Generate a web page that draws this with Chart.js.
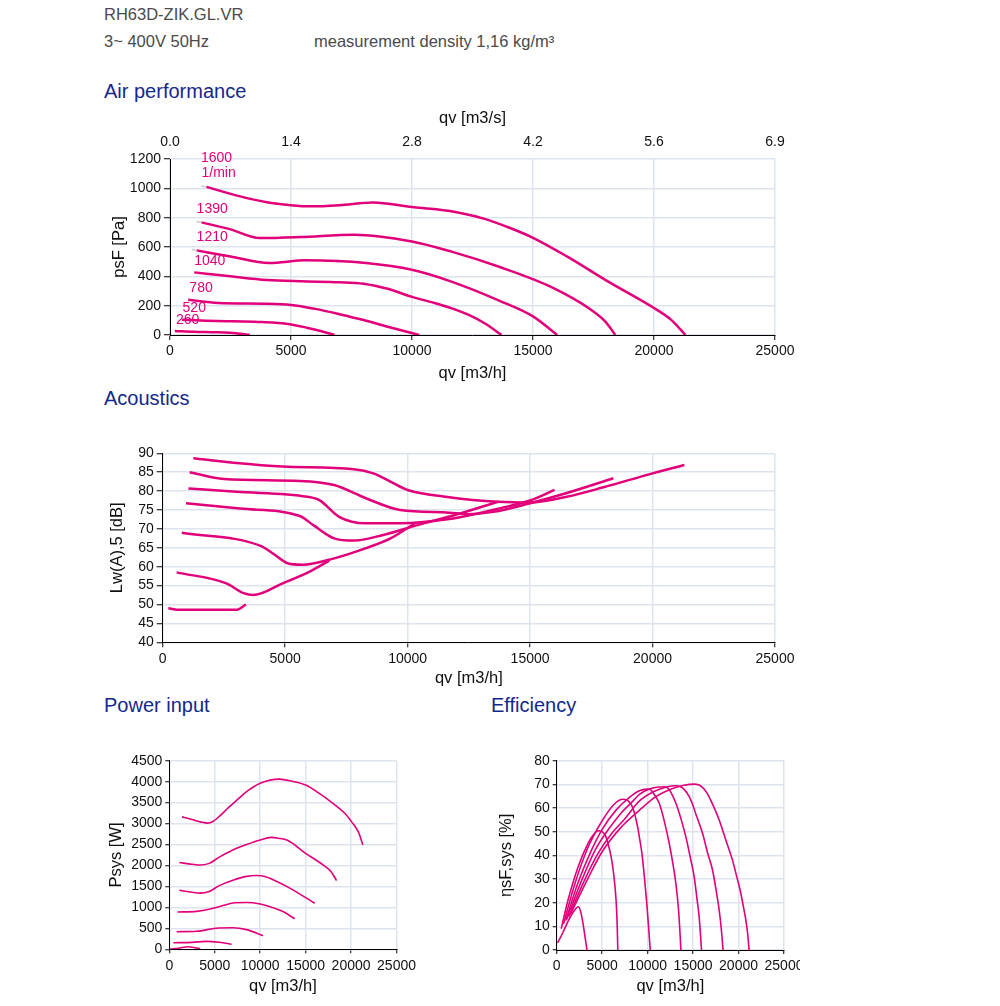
<!DOCTYPE html>
<html>
<head>
<meta charset="utf-8">
<script src="https://cdn.jsdelivr.net/npm/chart.js@4.4.1/dist/chart.umd.min.js"></script>
<style>
  body { margin: 0; background: #fff; font-family: "Liberation Sans", Arial, sans-serif; }
  .info { position: absolute; color: #4a4a4a; font-size: 16.5px; white-space: nowrap; }
  .head { position: absolute; color: #14288c; font-size: 20px; white-space: nowrap; }
  .box { position: absolute; overflow: hidden; }
  canvas { display: block; }
</style>
</head>
<body>
<div class="info" style="left:104px;top:5px">RH63D-ZIK.GL.VR</div>
<div class="info" style="left:104px;top:32px">3~ 400V 50Hz</div>
<div class="info" style="left:314px;top:32px">measurement density 1,16 kg/m³</div>
<div class="head" style="left:104px;top:80px">Air performance</div>
<div class="head" style="left:104px;top:387px">Acoustics</div>
<div class="head" style="left:104px;top:694px">Power input</div>
<div class="head" style="left:491px;top:694px">Efficiency</div>

<div class="box" id="bAir"><canvas id="cAir"></canvas></div>
<div class="box" id="bAco"><canvas id="cAco"></canvas></div>
<div class="box" id="bPow"><canvas id="cPow"></canvas></div>
<div class="box" id="bEff"><canvas id="cEff"></canvas></div>

<script>
// speeds in 1/min, top curve first
const speeds = ['1600', '1390', '1210', '1040', '780', '520', '260'];

// tick labels
const qvTicks = ['0', '5000', '10000', '15000', '20000', '25000'];
const qvSecTicks = ['0.0', '1.4', '2.8', '4.2', '5.6', '6.9'];
const psfTicks = ['0', '200', '400', '600', '800', '1000', '1200'];
const lwTicks = ['40', '45', '50', '55', '60', '65', '70', '75', '80', '85', '90'];
const powTicks = ['0', '500', '1000', '1500', '2000', '2500', '3000', '3500', '4000', '4500'];
const effTicks = ['0', '10', '20', '30', '40', '50', '60', '70', '80'];

// air performance: [qv m3/h, psF Pa]
const air1600 = [[1500,1010],[2900,945],[4000,905],[5000,885],[5800,877],[7000,885],[8400,904],[10000,873],[11000,857],[12000,832],[13000,792],[14000,733],[15000,663],[16400,536],[18200,355],[20000,184],[20700,105],[21300,0]];
const air1390 = [[1300,768],[2500,720],[3700,661],[5400,668],[7600,684],[10000,638],[11600,570],[13600,465],[15700,331],[17400,172],[18000,90],[18400,0]];
const air1210 = [[1100,577],[2500,535],[4100,491],[5600,509],[8100,491],[10000,445],[11600,366],[13600,235],[15000,127],[16000,0]];
const air1040 = [[1000,427],[2500,400],[4000,375],[5400,366],[7000,360],[8000,350],[9000,315],[10000,260],[11000,215],[11600,184],[12300,140],[13000,80],[13700,0]];
const air780 = [[750,240],[2000,218],[4000,213],[5000,205],[6000,178],[7000,142],[8000,102],[9000,56],[10300,0]];
const air520 = [[500,104],[1500,98],[2600,93],[3800,88],[4800,77],[5650,50],[6300,24],[6800,0]];
const air260 = [[200,28],[1000,22],[2000,18],[2800,10],[3300,0]];

// faint grey lead-ins left of the first three curves
const lead1600 = [[1300,1016],[1500,1010]];
const lead1390 = [[1100,774],[1300,768]];
const lead1210 = [[900,583],[1100,577]];

// speed labels on the air chart
const airLabelText = ['1600', '1/min', '1390', '1210', '1040', '780', '520', '260'];
const airLabelQ = [1280, 1300, 1100, 1100, 1000, 800, 520, 250];
const airLabelP = [1209, 1103, 857, 670, 505, 320, 184, 102];

// acoustics: [qv m3/h, Lw(A),5 dB]
const lw1600 = [[1250,88.7],[2900,87.5],[4900,86.5],[7800,85.8],[8600,84.7],[9300,82.5],[10000,80.3],[11700,78.4],[13700,77.2],[15000,77],[16500,78.5],[18000,81],[20000,84.7],[21300,86.9]];
const lw1390 = [[1100,85],[2500,83.2],[5600,82.7],[7000,81.6],[8300,78.1],[9700,75],[11700,74.3],[12400,73.9],[13500,74.5],[15000,76.8],[16500,79.5],[18400,83.4]];
const lw1210 = [[1050,80.7],[3000,79.8],[5900,78.5],[6400,77.6],[7200,73.2],[8300,71.5],[9700,71.5],[11700,72.6],[13800,75.5],[15000,77.5],[16000,80.3]];
const lw1040 = [[950,76.8],[3150,75.4],[5600,73.4],[6150,71],[7000,67.5],[7800,66.9],[9000,68.4],[10400,71],[12000,73.8],[13700,77.2]];
const lw780 = [[780,69],[4000,65.5],[4500,63.5],[5100,60.9],[5700,60.5],[7000,62.2],[8300,64.9],[9300,67.5],[10300,71.5]];
const lw520 = [[570,58.5],[2600,55.6],[3300,53],[3700,52.5],[4900,55.6],[6000,58.7],[6800,61.6]];
const lw260 = [[230,49],[700,48.6],[3000,48.6],[3400,50]];

// power input: [qv m3/h, Psys W]
const pw1600 = [[1400,3160],[2500,3095],[3500,3035],[4200,3010],[4800,3050],[5500,3170],[6500,3380],[7500,3570],[8500,3760],[10000,3960],[12100,4060],[13500,4010],[15000,3920],[16500,3720],[18000,3480],[19500,3200],[20200,3000],[20800,2800],[21300,2490]];
const pw1390 = [[1100,2070],[2500,2030],[3400,2010],[4400,2050],[5500,2200],[7000,2370],[8500,2500],[10000,2610],[11200,2670],[12000,2650],[13000,2600],[15000,2290],[17000,2000],[17800,1850],[18400,1640]];
const pw1210 = [[1100,1410],[2500,1360],[3400,1340],[4400,1380],[5500,1520],[7000,1650],[8500,1740],[9600,1760],[10600,1730],[12000,1600],[13000,1490],[14500,1300],[16000,1100]];
const pw1040 = [[900,890],[3000,905],[4500,960],[6000,1050],[7200,1110],[8500,1115],[10000,1080],[11000,1020],[12500,900],[13800,730]];
const pw780 = [[800,420],[3000,430],[5400,510],[7000,515],[8500,470],[10300,325]];
const pw520 = [[450,158],[2500,165],[4000,190],[5500,170],[6850,120]];
const pw260 = [[100,5],[1000,25],[2100,62],[2800,35],[3400,20]];

// efficiency: [qv m3/h, etasF,sys %]
const ef1600 = [[1500,15],[3400,30],[5000,41.5],[7000,51.5],[9085,59],[10900,64.8],[12750,68.3],[14000,69.6],[15120,70.1],[15600,69.8],[16000,68.8],[16500,66.5],[17000,62.8],[17500,58.5],[17870,54.9],[18600,46.5],[19330,38],[19800,31],[20250,24],[20550,18],[20800,12.7],[21000,7],[21160,0]];
const ef1390 = [[1300,14],[3000,29],[4500,40.5],[6000,49],[7500,55.5],[9100,63],[10700,67],[12000,68.8],[13100,69.4],[13600,69],[14000,68],[14575,64.8],[15000,61],[15300,57.5],[16040,49.3],[16600,41],[17140,33.8],[17500,26],[17870,16.9],[18100,9],[18300,0]];
const ef1210 = [[1100,13],[2700,29],[4200,42],[5600,50.5],[7000,57.5],[8400,63],[9100,65.8],[10200,68],[11000,68.8],[11830,69],[12200,68.5],[12500,67],[13110,62],[13700,55],[14200,47.9],[14700,39],[15120,31],[15450,21],[15670,14],[15930,0]];
const ef1040 = [[1000,12.5],[2300,28],[3800,42],[5000,51],[6500,59],[8000,64.5],[9100,67.3],[9900,68],[10200,67.9],[10500,67],[11280,62],[11800,55],[12380,45],[12800,36],[13110,28],[13400,17],[13550,8],[13660,0]];
const ef780 = [[750,11],[2000,28],[3400,43],[4900,54],[6300,61.5],[7260,63.7],[7700,63.4],[8000,62.5],[8200,61.5],[8500,58.5],[8900,52],[9100,47.5],[9400,40],[9640,31],[9900,20],[10100,10],[10290,0]];
const ef520 = [[500,9],[1240,21],[2340,35],[3430,45],[4000,48.5],[4600,50.4],[5000,50],[5260,49],[5450,47.5],[5600,45.5],[5990,39.4],[6300,31],[6530,21],[6650,11],[6720,0]];
const ef260 = [[100,3],[700,7.5],[1300,12.5],[1900,16.5],[2400,18.3],[2650,16],[2900,11],[3100,6],[3330,0]];

const FONT = '"Liberation Sans", Arial, sans-serif';
const PINK = '#e2007a';
const GRID = '#dde4ee';

function toSets(curves, width) {
  return curves.map((c, i) => ({
    label: speeds[i],
    data: c.map(p => ({ x: p[0], y: p[1] })),
    borderColor: PINK,
    borderWidth: width,
    pointRadius: 0,
    fill: false,
    cubicInterpolationMode: 'monotone'
  }));
}

function leadSets(curves) {
  return curves.map(c => ({
    data: c.map(p => ({ x: p[0], y: p[1] })),
    borderColor: '#cfd3da',
    borderWidth: 2,
    pointRadius: 0,
    fill: false
  }));
}

function axis(o) {
  return {
    type: 'linear',
    position: o.pos,
    min: o.min,
    max: o.max,
    afterFit: s => { if (o.pos === 'left') s.width = o.size; else s.height = o.size; },
    ticks: {
      stepSize: o.step, autoSkip: false, maxRotation: 0, padding: o.pad,
      color: '#111', font: { family: FONT, size: o.fs },
      callback: (v, i) => o.labels[i]
    },
    grid: { display: o.grid !== false, color: GRID, lineWidth: 1.5, tickLength: o.tl, tickColor: '#000', tickWidth: 1 },
    border: { display: o.grid !== false, color: '#000', width: 1 },
    title: { display: true, text: o.title, color: '#111', font: { family: FONT, size: 16.5 }, padding: { top: 4, bottom: 4 } }
  };
}

function makeChart(id, box, clipW, plot, sizes, scales, sets, plugins) {
  const wrap = document.getElementById('b' + id.slice(1));
  wrap.style.left = box[0] + 'px';
  wrap.style.top = box[1] + 'px';
  wrap.style.width = clipW + 'px';
  wrap.style.height = box[3] + 'px';
  const cv = document.getElementById(id);
  cv.width = box[2];
  cv.height = box[3];
  cv.style.width = box[2] + 'px';
  cv.style.height = box[3] + 'px';
  return new Chart(cv, {
    type: 'line',
    data: { datasets: sets },
    plugins: plugins || [],
    options: {
      responsive: false,
      animation: false,
      layout: {
        padding: {
          left: plot[0] - box[0] - sizes.left,
          top: plot[1] - box[1] - (sizes.top || 0),
          right: box[0] + box[2] - plot[2],
          bottom: box[1] + box[3] - plot[3] - sizes.bottom
        }
      },
      plugins: { legend: { display: false }, tooltip: { enabled: false } },
      scales: scales
    }
  });
}

const curveLabels = {
  id: 'curveLabels',
  afterDatasetsDraw(chart) {
    const { ctx, scales: { x, y } } = chart;
    ctx.save();
    ctx.fillStyle = PINK;
    ctx.font = '14px ' + FONT;
    ctx.textBaseline = 'middle';
    airLabelText.forEach((t, i) => {
      ctx.fillText(t, x.getPixelForValue(airLabelQ[i]), y.getPixelForValue(airLabelP[i]));
    });
    ctx.restore();
  }
};

// Air performance
makeChart('cAir', [88, 100, 722, 295], 722, [170, 159, 775, 335],
  { left: 64, bottom: 52, top: 54 },
  {
    x: axis({ pos: 'bottom', min: 0, max: 25000, step: 5000, labels: qvTicks, size: 52, pad: 3, tl: 5, fs: 14, title: 'qv [m3/h]' }),
    x2: axis({ pos: 'top', min: 0, max: 25000, step: 5000, labels: qvSecTicks, size: 54, pad: 8, tl: 0, fs: 14, title: 'qv [m3/s]', grid: false }),
    y: axis({ pos: 'left', min: 0, max: 1200, step: 200, labels: psfTicks, size: 64, pad: 3, tl: 6, fs: 14, title: 'psF [Pa]' })
  },
  leadSets([lead1600, lead1390, lead1210]).concat(
    toSets([air1600, air1390, air1210, air1040, air780, air520, air260], 2.5)),
  [curveLabels]);

// Acoustics
makeChart('cAco', [88, 440, 722, 260], 722, [162.7, 453.3, 775, 642.3],
  { left: 59.6, bottom: 50 },
  {
    x: axis({ pos: 'bottom', min: 0, max: 25000, step: 5000, labels: qvTicks, size: 50, pad: 3, tl: 5, fs: 14, title: 'qv [m3/h]' }),
    y: axis({ pos: 'left', min: 40, max: 90, step: 5, labels: lwTicks, size: 59.6, pad: 3, tl: 6, fs: 14, title: 'Lw(A),5 [dB]' })
  },
  toSets([lw1600, lw1390, lw1210, lw1040, lw780, lw520, lw260], 2.5));

// Power input
makeChart('cPow', [88, 745, 332, 261], 332, [169.3, 760.7, 397.3, 949.3],
  { left: 66.3, bottom: 51.3 },
  {
    x: axis({ pos: 'bottom', min: 0, max: 25000, step: 5000, labels: qvTicks, size: 51.3, pad: 4, tl: 4, fs: 14, title: 'qv [m3/h]' }),
    y: axis({ pos: 'left', min: 0, max: 4500, step: 500, labels: powTicks, size: 66.3, pad: 3, tl: 4, fs: 14, title: 'Psys [W]' })
  },
  toSets([pw1600, pw1390, pw1210, pw1040, pw780, pw520, pw260], 1.6));

// Efficiency
makeChart('cEff', [480, 745, 345, 261], 320, [556.7, 760.7, 784, 950],
  { left: 63.7, bottom: 50.6 },
  {
    x: axis({ pos: 'bottom', min: 0, max: 25000, step: 5000, labels: qvTicks, size: 50.6, pad: 4, tl: 4, fs: 14, title: 'qv [m3/h]' }),
    y: axis({ pos: 'left', min: 0, max: 80, step: 10, labels: effTicks, size: 63.7, pad: 3, tl: 4, fs: 14, title: 'ηsF,sys [%]' })
  },
  toSets([ef1600, ef1390, ef1210, ef1040, ef780, ef520, ef260], 1.6));
</script>
</body>
</html>
